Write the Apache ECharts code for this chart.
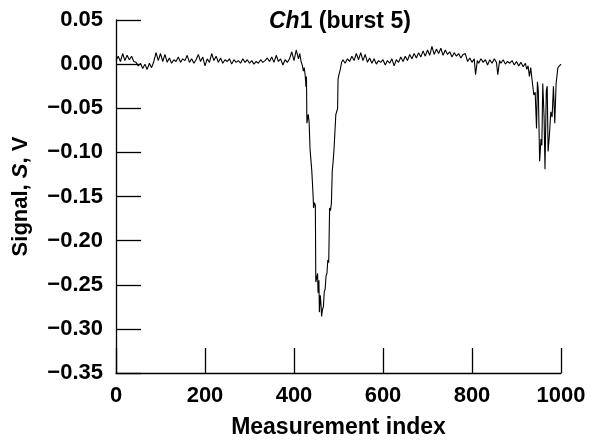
<!DOCTYPE html>
<html>
<head>
<meta charset="utf-8">
<script src="https://cdn.jsdelivr.net/npm/echarts@6/dist/echarts.min.js"></script>
<style>
  html, body { margin: 0; padding: 0; background: #fff; }
  #chart { width: 591px; height: 444px; }
</style>
</head>
<body>
<div id="chart"></div>
<script>
const idx = [
  0, 5, 10, 15, 20, 25, 30, 35, 40, 45, 50, 55, 60, 65, 70, 75, 80, 85,
  90, 95, 100, 105, 110, 115, 120, 125, 130, 135, 140, 145, 150, 155, 160, 165, 170, 175,
  180, 185, 190, 195, 200, 205, 210, 215, 220, 225, 230, 235, 240, 245, 250, 255, 260, 265,
  270, 275, 280, 285, 290, 295, 300, 305, 310, 315, 320, 325, 330, 335, 340, 345, 350, 355,
  360, 365, 370, 375, 380, 385, 390, 395, 400, 405, 410, 413,
  416, 419, 421, 423, 425, 427, 428, 429, 431, 432, 434, 436, 437, 440, 443, 444, 446, 448,
  449, 451, 453, 454, 456, 457, 459, 461, 462, 464, 466, 468, 470, 472, 474, 476, 478, 480,
  482, 484, 486, 488, 490, 492, 494, 496, 498, 499, 501, 504, 507, 510,
  515, 520, 525, 530, 535, 540, 545, 550, 555, 560, 565, 570, 575, 580, 585, 590, 595, 600,
  605, 610, 615, 620, 625, 630, 635, 640, 645, 650, 655, 660, 665, 670, 675, 680, 685, 690,
  695, 700, 705, 710, 715, 720, 725, 730, 735, 740, 745, 750, 755, 760, 765, 770, 775, 780,
  785, 790, 795, 800, 805, 808, 812, 815, 820, 825, 830, 835, 840, 845, 850, 855, 858, 862,
  865, 870, 875, 880, 885, 890, 895, 900, 905, 910, 915, 920, 923, 926, 929, 932, 935, 937,
  939, 942, 945, 947, 949, 952, 955, 957, 959, 962, 964, 967, 969, 971, 974, 977, 980, 983,
  986, 989, 991, 993, 996, 1000
];
const signal = [
  0.004, 0.009, 0.003, 0.012, 0.004, 0.010, 0.005, 0.009, 0.003, 0.002, -0.002, 0.001, -0.005, 0.000, -0.006, 0.001, -0.004, 0.003,
  0.013, 0.004, 0.012, 0.003, 0.011, 0.002, 0.007, 0.001, 0.005, 0.003, 0.008, 0.002, 0.006, 0.004, 0.010, 0.002, 0.006, 0.001,
  0.005, 0.011, 0.003, 0.008, -0.002, 0.006, 0.002, 0.012, 0.004, 0.009, 0.002, 0.007, 0.001, 0.005, 0.003, 0.006, 0.000, 0.005,
  0.002, 0.004, 0.001, 0.006, 0.002, 0.005, 0.001, 0.004, 0.000, 0.003, 0.001, 0.005, 0.002, 0.004, 0.007, 0.003, 0.008, 0.002,
  0.010, 0.003, 0.006, -0.001, 0.005, 0.002, 0.006, 0.014, 0.004, 0.016, 0.006, 0.012,
  0.003, -0.002, -0.008, -0.004, -0.012, -0.026, -0.014, -0.067, -0.066, -0.057, -0.066, -0.096, -0.098, -0.121, -0.150, -0.163, -0.157, -0.160,
  -0.247, -0.249, -0.237, -0.259, -0.245, -0.281, -0.262, -0.275, -0.286, -0.278, -0.275, -0.258, -0.255, -0.240, -0.237, -0.222, -0.225, -0.163,
  -0.166, -0.158, -0.121, -0.110, -0.096, -0.094, -0.057, -0.054, -0.050, -0.017, -0.012, -0.006, 0.002, 0.005,
  0.001, 0.006, 0.003, 0.009, 0.004, 0.012, 0.005, 0.013, 0.004, 0.011, 0.002, 0.007, 0.001, 0.006, 0.000, 0.004, 0.002, 0.005,
  -0.001, 0.004, 0.001, 0.006, -0.002, 0.005, 0.002, 0.008, 0.003, 0.009, 0.004, 0.011, 0.006, 0.012, 0.007, 0.013, 0.008, 0.015,
  0.009, 0.016, 0.010, 0.020, 0.011, 0.017, 0.012, 0.018, 0.010, 0.016, 0.011, 0.014, 0.008, 0.013, 0.009, 0.012, 0.007, 0.011,
  0.012, 0.003, 0.007, 0.002, 0.006, -0.012, 0.004, 0.001, 0.006, 0.002, 0.005, -0.001, 0.005, 0.001, 0.006, 0.002, -0.012, 0.004,
  0.001, 0.005, 0.000, 0.003, 0.001, 0.004, -0.001, 0.003, -0.002, 0.002, -0.003, 0.001, -0.006, -0.002, -0.014, -0.004, -0.018, -0.020,
  -0.035, -0.032, -0.073, -0.020, -0.030, -0.110, -0.085, -0.092, -0.022, -0.060, -0.119, -0.030, -0.025, -0.099, -0.080, -0.054, -0.060, -0.025,
  -0.067, -0.022, -0.020, -0.004, -0.002, 0.000
];
const xTicks = { min: 0, max: 1000, interval: 200 };
const yTicks = { min: -0.35, max: 0.05, interval: 0.05 };

const FONT = 'Liberation Sans';
const chart = echarts.init(document.getElementById('chart'), null, { renderer: 'canvas' });

const fmtY = v => {
  if (Math.abs(v) < 1e-9) return '0.00';
  return (v < 0 ? '\u2212' : '') + Math.abs(v).toFixed(2);
};

chart.setOption({
  animation: false,
  backgroundColor: '#fff',
  title: {
    text: '{i|Ch}1 (burst 5)',
    left: 264,
    top: 5,
    textStyle: {
      fontFamily: FONT, fontSize: 23, fontWeight: 'bold', color: '#000',
      rich: { i: { fontFamily: FONT, fontSize: 23, fontWeight: 'bold', fontStyle: 'italic', color: '#000' } }
    }
  },
  grid: { left: 116, right: 30, top: 20, bottom: 67 },
  xAxis: {
    type: 'value',
    min: xTicks.min, max: xTicks.max, interval: xTicks.interval,
    name: 'Measurement index',
    nameLocation: 'middle',
    nameGap: 43,
    nameTextStyle: { fontFamily: FONT, fontSize: 23, fontWeight: 'bold', color: '#000' },
    axisLine: { onZero: false, lineStyle: { color: '#000', width: 1.3 } },
    axisTick: { inside: true, length: 25, lineStyle: { color: '#000', width: 1.3 } },
    axisLabel: { fontFamily: FONT, fontSize: 22, fontWeight: 'bold', color: '#000', margin: 12, formatter: v => String(v) },
    splitLine: { show: false }
  },
  yAxis: {
    type: 'value',
    min: yTicks.min, max: yTicks.max, interval: yTicks.interval,
    name: 'Signal, {i|S}, V',
    nameLocation: 'middle',
    nameGap: 84,
    nameRotate: 90,
    nameTextStyle: {
      fontFamily: FONT, fontSize: 22, fontWeight: 'bold', color: '#000',
      rich: { i: { fontFamily: FONT, fontSize: 22, fontWeight: 'bold', fontStyle: 'italic', color: '#000' } }
    },
    axisLine: { show: true, onZero: false, lineStyle: { color: '#000', width: 1.3 } },
    axisTick: { show: true, inside: true, length: 25, lineStyle: { color: '#000', width: 1.3 } },
    axisLabel: { fontFamily: FONT, fontSize: 22, fontWeight: 'bold', color: '#000', margin: 13, formatter: fmtY },
    splitLine: { show: false }
  },
  series: [{
    type: 'line',
    data: idx.map((x, i) => [x, signal[i]]),
    showSymbol: false,
    symbol: 'none',
    lineStyle: { color: '#000', width: 1.1 },
    sampling: null
  }]
});
</script>
</body>
</html>
